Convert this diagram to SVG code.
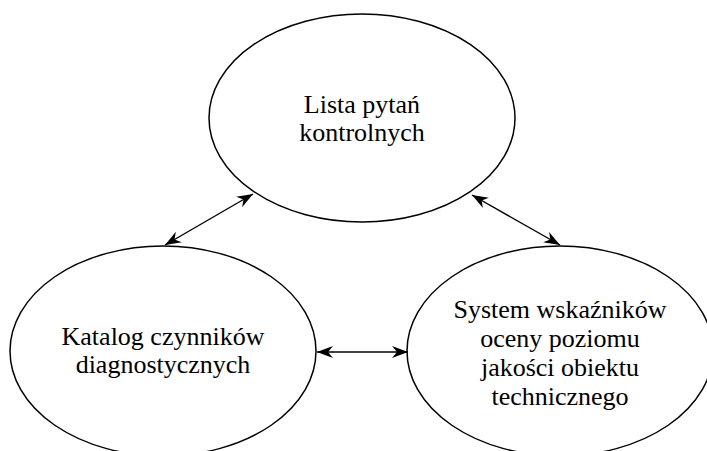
<svg xmlns="http://www.w3.org/2000/svg" width="707" height="451" viewBox="0 0 707 451">
<style>
.node ellipse{fill:#fff;stroke:#000;stroke-width:1.5}
.node text{font-family:"Liberation Serif","Times New Roman",serif;font-size:26px;fill:#000;text-anchor:middle}
.edge{stroke:#000;stroke-width:1.4;fill:none;marker-start:url(#ah);marker-end:url(#ah)}
</style>
<defs>
<marker id="ah" viewBox="-17 -7 18 14" refX="0" refY="0" markerWidth="18" markerHeight="14" markerUnits="userSpaceOnUse" orient="auto-start-reverse">
<path d="M0,0 L-16,-6 L-11,0 L-16,6 Z" fill="#000"/>
</marker>
</defs>
<rect width="707" height="451" fill="#fff"/>
<g id="n-lista" class="node">
<ellipse cx="362" cy="118" rx="153" ry="104"/>
<text x="362" y="113">Lista pytań</text>
<text x="362" y="141">kontrolnych</text>
</g>
<g id="n-katalog" class="node">
<ellipse cx="163" cy="351" rx="153" ry="105"/>
<text x="163" y="345">Katalog czynników</text>
<text x="163" y="373">diagnostycznych</text>
</g>
<g id="n-system" class="node">
<ellipse cx="560" cy="351" rx="153" ry="105"/>
<text x="560" y="318">System wskaźników</text>
<text x="560" y="347">oceny poziomu</text>
<text x="560" y="376">jakości obiektu</text>
<text x="560" y="405">technicznego</text>
</g>
<g id="connectors">
<line class="edge" x1="165" y1="245" x2="253" y2="194"/>
<line class="edge" x1="472" y1="195" x2="560" y2="245"/>
<line class="edge" x1="317" y1="352" x2="408" y2="352"/>
</g>
</svg>
